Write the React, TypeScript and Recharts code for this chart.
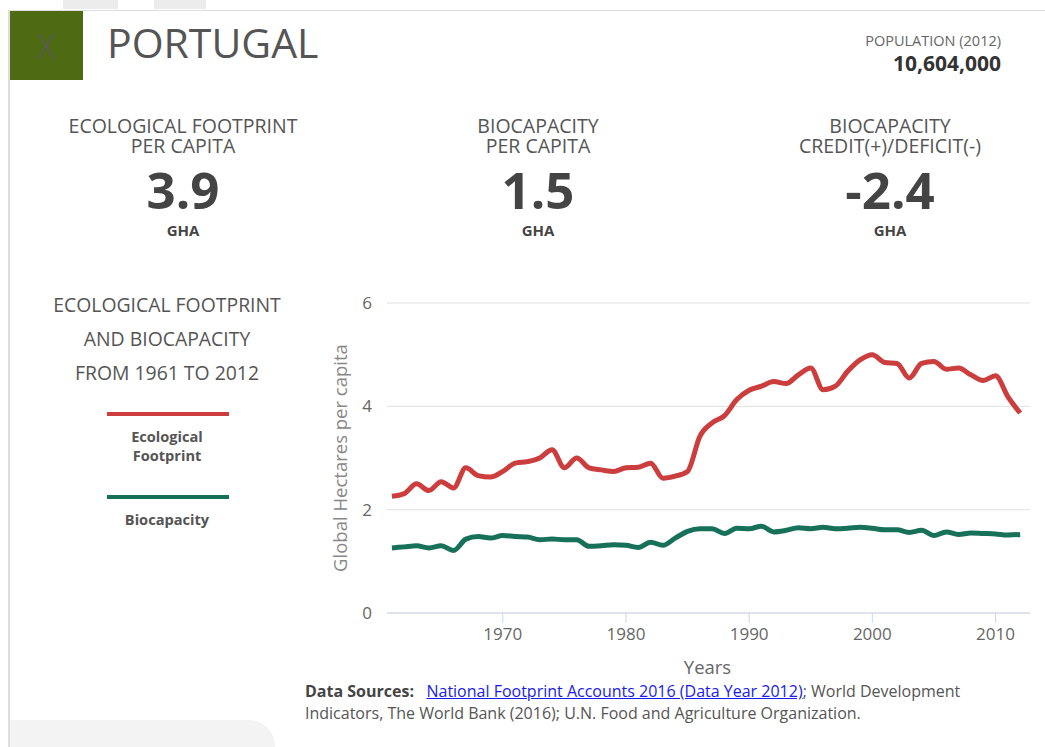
import { LineChart, Line, XAxis, YAxis, CartesianGrid } from "recharts";

const years = [
  1961, 1962, 1963, 1964, 1965, 1966, 1967, 1968, 1969, 1970, 1971, 1972, 1973,
  1974, 1975, 1976, 1977, 1978, 1979, 1980, 1981, 1982, 1983, 1984, 1985, 1986,
  1987, 1988, 1989, 1990, 1991, 1992, 1993, 1994, 1995, 1996, 1997, 1998, 1999,
  2000, 2001, 2002, 2003, 2004, 2005, 2006, 2007, 2008, 2009, 2010, 2011, 2012,
];

const footprint = [
  2.26, 2.31, 2.5, 2.37, 2.54, 2.42, 2.81, 2.66, 2.63, 2.74, 2.9, 2.93, 3.0,
  3.16, 2.81, 3.0, 2.81, 2.77, 2.74, 2.81, 2.82, 2.9, 2.61, 2.65, 2.74, 3.42,
  3.68, 3.82, 4.13, 4.31, 4.39, 4.48, 4.44, 4.61, 4.74, 4.32, 4.39, 4.68, 4.9,
  5.0, 4.85, 4.83, 4.55, 4.83, 4.87, 4.72, 4.74, 4.61, 4.5, 4.59, 4.19, 3.87,
];

const biocapacity = [
  1.26, 1.28, 1.3, 1.26, 1.3, 1.21, 1.43, 1.48, 1.45, 1.5, 1.48, 1.47, 1.42,
  1.43, 1.42, 1.42, 1.29, 1.3, 1.32, 1.31, 1.27, 1.37, 1.31, 1.45, 1.58, 1.63,
  1.63, 1.54, 1.64, 1.63, 1.68, 1.57, 1.6, 1.65, 1.63, 1.66, 1.63, 1.64, 1.66,
  1.64, 1.61, 1.61, 1.56, 1.6, 1.5, 1.57, 1.52, 1.55, 1.54, 1.53, 1.51, 1.52,
];

const xTicks = [1970, 1980, 1990, 2000, 2010];
const yTicks = [0, 2, 4, 6];

const stats = [
  { label: ["ECOLOGICAL FOOTPRINT", "PER CAPITA"], value: "3.9", x: 183 },
  { label: ["BIOCAPACITY", "PER CAPITA"], value: "1.5", x: 538 },
  { label: ["BIOCAPACITY", "CREDIT(+)/DEFICIT(-)"], value: "-2.4", x: 890 },
];

const RED = "#cc3d3d";
const GREEN = "#17705a";
const FONT = "'Open Sans', sans-serif";

const data = years.map((year, i) => ({
  year,
  footprint: footprint[i],
  biocapacity: biocapacity[i],
}));

const abs = (left: number, top: number): React.CSSProperties => ({
  position: "absolute",
  left,
  top,
});

export default function App() {
  return (
    <div
      style={{
        position: "absolute",
        left: 0,
        top: 0,
        width: 1045,
        height: 747,
        background: "#fff",
        fontFamily: FONT,
        color: "#555",
        overflow: "hidden",
      }}
    >
      {/* card frame */}
      <div style={{ ...abs(9, 10), width: 1036, height: 1, background: "#ddd" }} />
      <div style={{ ...abs(8, 10), width: 2, height: 737, background: "#ddd" }} />
      <div
        style={{
          ...abs(10, 720),
          width: 265,
          height: 40,
          background: "#f3f3f3",
          borderTopRightRadius: 26,
        }}
      />
      <div style={{ ...abs(63, 0), width: 55, height: 9, background: "#ececec" }} />
      <div style={{ ...abs(154, 0), width: 52, height: 9, background: "#ececec" }} />

      {/* close box */}
      <div
        style={{
          ...abs(10, 11),
          width: 73,
          height: 69,
          background: "#4e6a12",
          color: "#5a5a5a",
          fontSize: 34,
          fontWeight: 300,
          display: "flex",
          alignItems: "center",
          justifyContent: "center",
          lineHeight: 1,
        }}
      >
        X
      </div>

      <div style={{ ...abs(107, 17), fontSize: 41, lineHeight: "50px", color: "#555" }}>
        PORTUGAL
      </div>

      <div
        style={{
          position: "absolute",
          right: 44,
          top: 31,
          textAlign: "right",
          color: "#666",
        }}
      >
        <div style={{ fontSize: 14.5, lineHeight: "20px" }}>POPULATION (2012)</div>
        <div style={{ fontSize: 21, fontWeight: 700, color: "#333", lineHeight: "24px" }}>
          10,604,000
        </div>
      </div>

      {stats.map((s) => (
        <div
          key={s.value}
          style={{
            position: "absolute",
            left: s.x - 150,
            top: 116,
            width: 300,
            textAlign: "center",
          }}
        >
          <div style={{ fontSize: 19.5, lineHeight: "20px", color: "#555" }}>
            {s.label[0]}
            <br />
            {s.label[1]}
          </div>
          <div
            style={{
              fontSize: 51,
              fontWeight: 700,
              lineHeight: "56px",
              color: "#444",
              marginTop: 5,
            }}
          >
            {s.value}
          </div>
          <div style={{ fontSize: 15, fontWeight: 700, color: "#444", marginTop: 3 }}>
            GHA
          </div>
        </div>
      ))}

      {/* left description and legend */}
      <div
        style={{
          ...abs(17, 288),
          width: 300,
          textAlign: "center",
          fontSize: 19.4,
          lineHeight: "34px",
          color: "#555",
        }}
      >
        ECOLOGICAL FOOTPRINT
        <br />
        AND BIOCAPACITY
        <br />
        FROM 1961 TO 2012
      </div>
      <div style={{ ...abs(107, 412), width: 122, height: 4, background: RED }} />
      <div
        style={{
          ...abs(67, 427),
          width: 200,
          textAlign: "center",
          fontSize: 14.6,
          fontWeight: 700,
          lineHeight: "19px",
          color: "#555",
        }}
      >
        Ecological
        <br />
        Footprint
      </div>
      <div style={{ ...abs(107, 495), width: 122, height: 4, background: GREEN }} />
      <div
        style={{
          ...abs(67, 510),
          width: 200,
          textAlign: "center",
          fontSize: 14.6,
          fontWeight: 700,
          lineHeight: "19px",
          color: "#555",
        }}
      >
        Biocapacity
      </div>

      {/* chart */}
      <div style={abs(300, 290)}>
        <LineChart
          width={745}
          height={400}
          data={data}
          margin={{ top: 13, right: 15, left: 0, bottom: 13 }}
        >
          <CartesianGrid horizontal vertical={false} stroke="#e0e0e0" />
          <XAxis
            dataKey="year"
            type="number"
            domain={[1960.6, 2012.8]}
            ticks={xTicks}
            allowDataOverflow
            height={64}
            tickSize={10}
            tickMargin={5}
            stroke="#ccd6eb"
            tick={{ fill: "#666", fontSize: 17, fontFamily: FONT }}
            label={{
              value: "Years",
              position: "insideBottom",
              offset: 3,
              dx: -1,
              style: { fill: "#666", fontSize: 18.5, fontFamily: FONT },
            }}
          />
          <YAxis
            type="number"
            domain={[0, 6]}
            ticks={yTicks}
            width={87}
            axisLine={false}
            tickLine={false}
            tickSize={0}
            tickMargin={15}
            tick={{ fill: "#666", fontSize: 17, fontFamily: FONT }}
            label={{
              value: "Global Hectares per capita",
              angle: -90,
              position: "insideLeft",
              offset: 40,
              style: { textAnchor: "middle", fill: "#888", fontSize: 18.5, fontFamily: FONT },
            }}
          />
          <Line
            type="monotone"
            dataKey="footprint"
            stroke={RED}
            strokeWidth={5}
            dot={false}
            isAnimationActive={false}
          />
          <Line
            type="monotone"
            dataKey="biocapacity"
            stroke={GREEN}
            strokeWidth={5}
            dot={false}
            isAnimationActive={false}
          />
        </LineChart>
      </div>

      {/* sources */}
      <div
        style={{
          ...abs(305, 680),
          width: 680,
          fontSize: 16,
          lineHeight: "22px",
          color: "#555",
        }}
      >
        <b style={{ color: "#444" }}>Data Sources:</b>
        {"\u00a0\u00a0 "}
        <a href="#" style={{ color: "#1a1aee", textDecoration: "underline" }}>
          National Footprint Accounts 2016 (Data Year 2012)
        </a>
        ; World Development Indicators, The World Bank (2016); U.N. Food and
        Agriculture Organization.
      </div>
    </div>
  );
}
